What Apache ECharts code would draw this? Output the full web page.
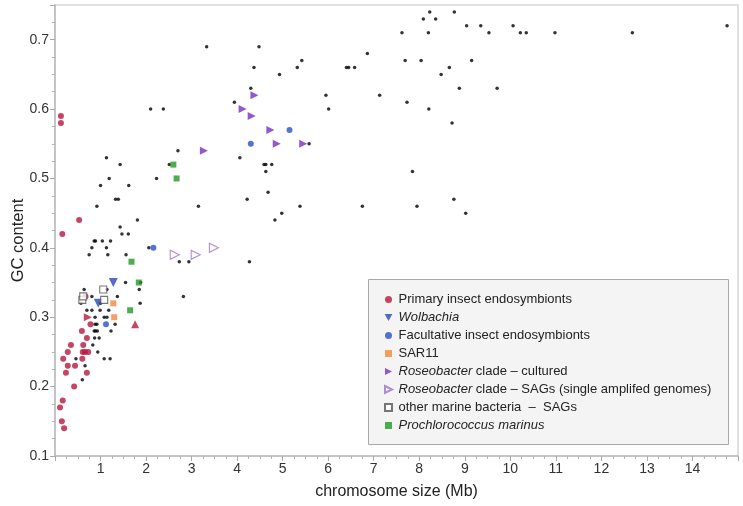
<!DOCTYPE html>
<html><head><meta charset="utf-8">
<script src="https://cdn.jsdelivr.net/npm/echarts@6/dist/echarts.min.js"></script>
<style>html,body{margin:0;padding:0;background:#fff}#c{width:743px;height:506px}</style>
</head><body><div id="c"></div>
<script>
// ---- data (chromosome size Mb, GC content) ----
const primary = [[0.13,0.59],[0.13,0.58],[0.16,0.42],[0.53,0.44],[0.67,0.33],[0.78,0.29],[0.59,0.28],[0.70,0.27],
  [0.35,0.26],[0.62,0.26],[0.28,0.25],[0.61,0.25],[0.66,0.25],[0.73,0.25],[0.18,0.24],[0.60,0.24],[0.28,0.23],
  [0.44,0.23],[0.24,0.22],[0.70,0.22],[0.42,0.20],[0.17,0.18],[0.11,0.17],[0.15,0.15],[0.20,0.14]];
const primaryTriRight = [[0.72,0.30]];
const primaryTriUp = [[1.76,0.29]];
const wolbachia = [[1.28,0.35],[0.95,0.32]];
const facultative = [[2.16,0.40],[4.30,0.55],[5.15,0.57],[1.12,0.29]];
const sar11 = [[1.28,0.32],[1.30,0.30]];
const roseoCultured = [[3.27,0.54],[4.12,0.60],[4.32,0.59],[4.38,0.62],[4.73,0.57],[4.87,0.55],[5.45,0.55]];
const roseoSAGs = [[2.63,0.39],[3.09,0.39],[3.49,0.40]];
const marineSAGs = [[0.60,0.325],[0.62,0.33],[1.06,0.34],[1.08,0.325]];
const prochlorococcus = [[2.60,0.52],[2.67,0.50],[1.68,0.38],[1.84,0.35],[1.65,0.31]];
const otherGenomes = [
  [8.23,0.74],[8.77,0.74],[8.09,0.73],[8.36,0.73],[7.62,0.71],[8.20,0.71],[9.04,0.72],[9.35,0.72],[9.53,0.71],
  [10.06,0.72],[10.22,0.71],[10.35,0.71],[10.98,0.71],[12.68,0.71],[14.76,0.72],[9.71,0.63],
  [4.48,0.69],[6.86,0.68],[5.42,0.67],[7.69,0.67],[8.04,0.67],[9.15,0.67],
  [4.37,0.66],[5.32,0.66],[6.40,0.66],[6.45,0.66],[6.58,0.66],[8.66,0.66],
  [4.93,0.65],[8.48,0.65],[4.30,0.63],[8.88,0.63],
  [5.95,0.62],[7.13,0.62],[7.73,0.61],[6.01,0.60],[8.21,0.60],[8.72,0.58],[5.58,0.55],
  [4.59,0.52],[4.63,0.52],[4.76,0.52],[4.63,0.51],[7.85,0.51],[4.68,0.48],[8.76,0.47],
  [5.38,0.46],[6.75,0.46],[7.95,0.46],[4.98,0.45],[9.02,0.45],[4.83,0.44],
  [3.33,0.69],[2.10,0.60],[2.38,0.60],[3.94,0.61],[1.13,0.53],[1.43,0.52],[2.70,0.54],[2.51,0.52],[4.06,0.53],
  [1.19,0.50],[1.00,0.49],[1.62,0.49],[2.23,0.50],[1.33,0.47],[1.39,0.47],[0.92,0.46],[3.15,0.46],[4.22,0.47],
  [1.81,0.44],[1.43,0.43],[1.47,0.42],[1.61,0.42],[0.86,0.41],[0.89,0.41],[1.04,0.41],[1.22,0.41],
  [0.81,0.40],[1.13,0.40],[2.06,0.40],[0.75,0.39],[1.16,0.39],[1.56,0.39],[2.73,0.38],[2.94,0.38],[4.27,0.38],
  [1.55,0.35],[1.88,0.35],[0.64,0.34],[1.14,0.34],[1.85,0.34],[0.81,0.33],[1.37,0.33],[2.82,0.33],
  [0.57,0.32],[1.00,0.32],[1.87,0.32],[0.70,0.31],[0.81,0.31],[0.99,0.31],[1.18,0.31],
  [0.88,0.30],[1.08,0.30],[1.14,0.30],[0.88,0.29],[0.92,0.29],[1.32,0.29],
  [0.86,0.28],[0.89,0.28],[0.93,0.28],[1.23,0.28],[0.87,0.27],[0.97,0.27],[0.83,0.26],[0.94,0.25],
  [0.46,0.24],[1.08,0.24],[1.21,0.24],[0.66,0.23],[0.60,0.21]
];
const seriesNames = ['Primary insect endosymbionts','Wolbachia','Facultative insect endosymbionts','SAR11',
  'Roseobacter clade – cultured','Roseobacter clade – SAGs (single amplifed genomes)',
  'other marine bacteria  –  SAGs','Prochlorococcus marinus'];
const xTickLabels = [1,2,3,4,5,6,7,8,9,10,11,12,13,14];
const yTickLabels = [0.1,0.2,0.3,0.4,0.5,0.6,0.7];

// ---- chart ----
const FONT = 'Liberation Sans, Arial, Helvetica, sans-serif';
const TRI_RIGHT = 'path://M0,0L10,5L0,10Z';
const TRI_DOWN = 'path://M0,0L10,0L5,9Z';
const SQUARE = 'path://M0,0L10,0L10,10L0,10Z';
const legendRich = {
  'Wolbachia': '{i|Wolbachia}',
  'Roseobacter clade – cultured': '{i|Roseobacter}{n| clade – cultured}',
  'Roseobacter clade – SAGs (single amplifed genomes)': '{i|Roseobacter}{n| clade – SAGs (single amplifed genomes)}',
  'Prochlorococcus marinus': '{i|Prochlorococcus marinus}'
};
const txt = {fontSize: 13, color: '#222', fontFamily: FONT};

const primaryData = primary.map(p => ({value: p}))
  .concat(primaryTriRight.map(p => ({value: p, symbol: TRI_RIGHT, symbolSize: 8})))
  .concat(primaryTriUp.map(p => ({value: p, symbol: 'triangle', symbolSize: 8})));

const chart = echarts.init(document.getElementById('c'), null, {renderer: 'canvas'});
chart.setOption({
  animation: false,
  backgroundColor: '#fff',
  grid: {left: 55, right: 5, top: 5, bottom: 50, containLabel: false, outerBoundsMode: 'none',
    show: true, borderColor: '#d6d6d6', borderWidth: 1.5},
  graphic: [{type: 'rect', z: 1, shape: {x: 368.5, y: 279.5, width: 360, height: 165},
    style: {fill: '#f4f4f4', stroke: '#a8a8a8', lineWidth: 1}}],
  legend: {
    orient: 'vertical', left: 379, top: 288, z: 5,
    itemWidth: 10, itemHeight: 7, itemGap: 5,
    data: seriesNames,
    formatter: n => legendRich[n] || n,
    textStyle: Object.assign({lineHeight: 13}, txt, {
      rich: {i: Object.assign({fontStyle: 'italic'}, txt), n: Object.assign({}, txt)}
    })
  },
  xAxis: {
    type: 'value', min: 0, max: 15, interval: 1,
    name: 'chromosome size (Mb)', nameLocation: 'middle', nameGap: 28, nameMoveOverlap: false,
    nameTextStyle: {fontSize: 16, color: '#222', fontFamily: FONT},
    axisLine: {lineStyle: {color: '#bbbbbb', width: 1.5}},
    axisTick: {length: 5, lineStyle: {color: '#aaaaaa'}},
    minorTick: {show: true, splitNumber: 4, length: 3, lineStyle: {color: '#b5b5b5'}},
    splitLine: {show: false},
    axisLabel: {color: '#333', fontSize: 14, fontFamily: FONT, margin: 6,
      formatter: v => xTickLabels.some(t => Math.abs(t - v) < 1e-6) ? String(v) : ''}
  },
  yAxis: {
    type: 'value', min: 0.1, max: 0.75, interval: 0.1,
    name: 'GC content', nameLocation: 'middle', nameGap: 28, nameMoveOverlap: false,
    nameTextStyle: {fontSize: 16.5, color: '#222', fontFamily: FONT, padding: [0, 20, 0, 0]},
    axisLine: {show: true, lineStyle: {color: '#bbbbbb', width: 1.5}},
    axisTick: {show: true, length: 5, lineStyle: {color: '#aaaaaa'}},
    minorTick: {show: true, splitNumber: 4, length: 3, lineStyle: {color: '#b5b5b5'}},
    splitLine: {show: false},
    axisLabel: {color: '#333', fontSize: 14, fontFamily: FONT, margin: 6,
      formatter: v => {
        const t = yTickLabels.find(t => Math.abs(t - v) < 1e-6);
        return t === undefined ? '' : t.toFixed(1);
      }}
  },
  series: [
    {type: 'scatter', name: 'other genomes', data: otherGenomes, symbol: 'circle', symbolSize: 3.5,
      itemStyle: {color: '#000'}, z: 2, silent: true},
    {type: 'scatter', name: seriesNames[0], data: primaryData, symbol: 'circle', symbolSize: 6,
      itemStyle: {color: '#b8173f'}, z: 3},
    {type: 'scatter', name: seriesNames[1], data: wolbachia, symbol: TRI_DOWN, symbolSize: 9,
      itemStyle: {color: '#2a47b8'}, z: 3},
    {type: 'scatter', name: seriesNames[2], data: facultative, symbol: 'circle', symbolSize: 6,
      itemStyle: {color: '#2a50c4'}, z: 3},
    {type: 'scatter', name: seriesNames[3], data: sar11, symbol: SQUARE, symbolSize: 6,
      itemStyle: {color: '#f08a3c'}, z: 3},
    {type: 'scatter', name: seriesNames[4], data: roseoCultured, symbol: TRI_RIGHT, symbolSize: 8,
      itemStyle: {color: '#7a2cc6'}, z: 3},
    {type: 'scatter', name: seriesNames[5], data: roseoSAGs, symbol: TRI_RIGHT, symbolSize: 9,
      itemStyle: {color: '#ffffff', borderColor: '#9a70d4', borderWidth: 1.1}, z: 3},
    {type: 'scatter', name: seriesNames[6], data: marineSAGs, symbol: SQUARE, symbolSize: 7,
      itemStyle: {color: '#ffffff', borderColor: '#555555', borderWidth: 1.1}, z: 3},
    {type: 'scatter', name: seriesNames[7], data: prochlorococcus, symbol: SQUARE, symbolSize: 6,
      itemStyle: {color: '#1f9a22'}, z: 3}
  ]
});
</script></body></html>
